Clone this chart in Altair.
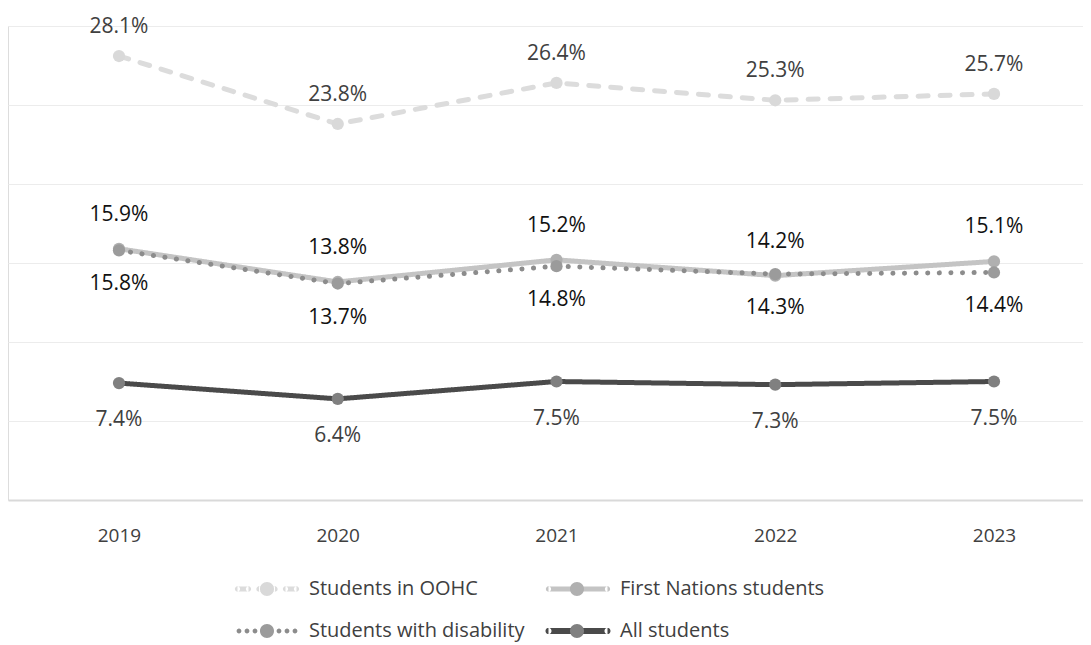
import altair as alt
import pandas as pd

years = ["2019", "2020", "2021", "2022", "2023"]
series_names = ["Students in OOHC", "First Nations students",
                "Students with disability", "All students"]
oohc = [28.1, 23.8, 26.4, 25.3, 25.7]
first_nations = [15.9, 13.8, 15.2, 14.2, 15.1]
disability = [15.8, 13.7, 14.8, 14.3, 14.4]
all_students = [7.4, 6.4, 7.5, 7.3, 7.5]

values_by_series = [oohc, first_nations, disability, all_students]
rows = []
for name, vals in zip(series_names, values_by_series):
    for y, v in zip(years, vals):
        rows.append({"year": y, "series": name, "value": v, "label": f"{v:.1f}%"})
df = pd.DataFrame(rows)

FONT = "Open Sans"
line_colors = ["#dcdcdc", "#c4c4c4", "#8c8c8c", "#4a4a4a"]
point_colors = ["#d9d9d9", "#b0b0b0", "#9b9b9b", "#808080"]
text_colors = ["#404040", "#111111", "#111111", "#404040"]
label_dy = [-29, -34, 34, 37]
dashes = [[10, 12], [1, 0], [0.1, 11.5], [1, 0]]

# ---- legend symbol paths (unit = 32 px) ----
U = 32.0
def f(v):
    return f"{v / U:.4f}"
def circ(cx, r):
    return (f"M{f(cx - r)},0A{f(r)},{f(r)} 0 1,0 {f(cx + r)},0"
            f"A{f(r)},{f(r)} 0 1,0 {f(cx - r)},0Z")
def bar(x0, x1, h):
    return (f"M{f(x0)},{f(-h)}L{f(x1)},{f(-h)}L{f(x1)},{f(h)}L{f(x0)},{f(h)}Z"
            + circ(x0, h) + circ(x1, h))
SPAN = "M-1,0L1,0"
sym_oohc = SPAN + bar(-29.5, -18.5, 2.6) + bar(-8, 8, 2.6) + bar(18.5, 29.5, 2.6)
sym_fn = SPAN + bar(-29.5, 29.5, 2.6)
sym_dis = SPAN + "".join(circ(c, 2.4) for c in [-28, -20, -12, 12, 20, 28])
sym_all = SPAN + bar(-29.5, 29.5, 3.0)
sym_circle = SPAN + circ(0, 7)

LX, LY = 227, 531
legend_common = dict(orient="none", legendX=LX, legendY=LY, columns=2,
                     direction="horizontal", title=None,
                     symbolSize=4096, symbolStrokeWidth=0, labelFont=FONT,
                     labelFontSize=20, labelOffset=10, columnPadding=20,
                     rowPadding=-15, labelLimit=500)

x_enc = alt.X("year:O", sort=years,
              scale=alt.Scale(type="point", padding=0.4571, align=0.555),
              axis=alt.Axis(title=None, labelAngle=0, ticks=False, domainColor="#d9d9d9",
                            domainWidth=2, labelFont=FONT, labelFontSize=19,
                            labelColor="#404040", labelPadding=26, grid=False))
y_enc = alt.Y("value:Q", scale=alt.Scale(domain=[0, 30], nice=False),
              axis=alt.Axis(title=None, labels=False, ticks=False, domain=False,
                            values=[0, 5, 10, 15, 20, 25, 30], gridColor="#ececec",
                            gridWidth=1))

base = alt.Chart(df)

legend_lines = base.transform_filter("false").mark_point(filled=True, opacity=1).encode(
    color=alt.Color("series:N", scale=alt.Scale(domain=series_names, range=line_colors),
                    legend=alt.Legend(zindex=1, labelColor="#404040", **legend_common)),
    shape=alt.Shape("series:N", scale=alt.Scale(domain=series_names,
                                                range=[sym_oohc, sym_fn, sym_dis, sym_all]),
                    legend=alt.Legend(zindex=1, labelColor="#404040", **legend_common)),
)

lines = base.mark_line(strokeWidth=5, strokeCap="round", strokeJoin="round").encode(
    x=x_enc, y=y_enc,
    stroke=alt.Stroke("series:N", scale=alt.Scale(domain=series_names, range=line_colors),
                      legend=None),
    strokeDash=alt.StrokeDash("series:N", scale=alt.Scale(domain=series_names, range=dashes),
                              legend=None),
    detail="series:N",
)

points = base.mark_circle(size=150, opacity=1).encode(
    x=x_enc, y=y_enc,
    fill=alt.Fill("series:N", sort=series_names, scale=alt.Scale(range=point_colors),
                  legend=alt.Legend(zindex=2, symbolType=sym_circle, labelOpacity=0,
                                    labelColor="#404040", **legend_common)),
)

label_layers = []
for name, dy, col in zip(series_names, label_dy, text_colors):
    label_layers.append(
        base.transform_filter(alt.datum.series == name).mark_text(
            dy=dy, fontSize=21, font=FONT, baseline="middle", color=col).encode(
            x=x_enc, y=y_enc, text="label:N"))

chart = alt.layer(legend_lines, lines, points, *label_layers).properties(
    width=1075, height=474,
    autosize=alt.AutoSizeParams(type="none"),
    padding={"left": 0, "top": 18, "right": 0, "bottom": 145},
).configure_view(stroke=None).configure(background="white")

chart.save("out.html", embed_options={"renderer": "svg", "actions": False})
